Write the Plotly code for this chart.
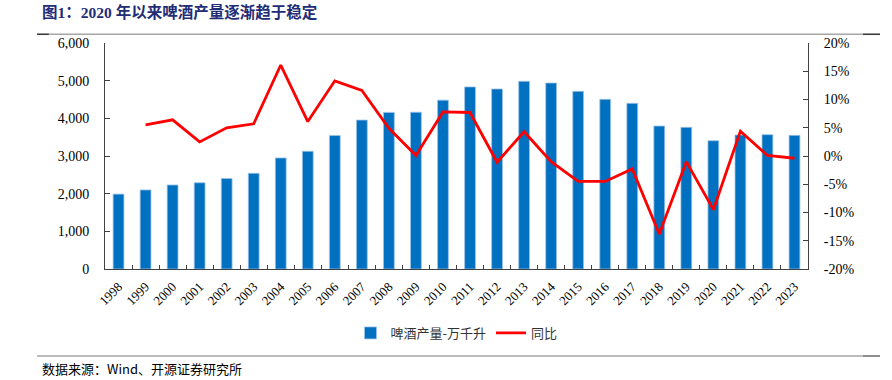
import plotly.graph_objects as go

years = [str(y) for y in range(1998, 2024)]
output = [1988, 2099, 2231, 2289, 2403, 2540, 2948, 3126, 3543, 3954, 4157, 4162, 4483,
          4834, 4779, 4983, 4938, 4717, 4504, 4398, 3796, 3761, 3406, 3557, 3566, 3548]
yoy = [None, 5.5, 6.4, 2.5, 5.0, 5.7, 16.1, 6.1, 13.3, 11.6, 4.9, 0.1, 7.8,
       7.7, -1.1, 4.3, -1.0, -4.5, -4.5, -2.3, -13.8, -1.0, -9.5, 4.4, 0.1, -0.4]
left_ticks = [0, 1000, 2000, 3000, 4000, 5000, 6000]
left_text = ["0", "1,000", "2,000", "3,000", "4,000", "5,000", "6,000"]
right_ticks = [-20, -15, -10, -5, 0, 5, 10, 15, 20]
right_text = ["-20%", "-15%", "-10%", "-5%", "0%", "5%", "10%", "15%", "20%"]

title_text = "<b>图1：2020 年以来啤酒产量逐渐趋于稳定</b>"
source_text = "数据来源：Wind、开源证券研究所"
bar_name = "啤酒产量-万千升"
line_name = "同比"

serif = "Liberation Serif, Times New Roman, Noto Sans CJK SC, serif"
cjk = "Noto Sans CJK SC, sans-serif"

fig = go.Figure()
fig.add_trace(go.Bar(
    x=years, y=output, name=bar_name,
    marker=dict(color="#0070C0", line=dict(color="#9CC3E8", width=0.8)),
))
fig.add_trace(go.Scatter(
    x=years, y=yoy, name=line_name, yaxis="y2", mode="lines",
    line=dict(color="#FF0000", width=2.8), connectgaps=False,
))

fig.update_layout(
    width=892, height=380,
    margin=dict(l=105, r=84, t=43, b=111),
    paper_bgcolor="white", plot_bgcolor="white",
    bargap=0.6,
    showlegend=True,
    legend=dict(orientation="h", x=0.5, xanchor="center", y=-0.283, yanchor="middle",
                font=dict(family=cjk, size=13, color="#333333"),
                itemwidth=30, traceorder="normal", bgcolor="rgba(0,0,0,0)"),
    xaxis=dict(
        type="category", showgrid=False, showline=True, linecolor="#404040", linewidth=1,
        ticks="inside", ticklen=4, tickcolor="#404040", tickson="boundaries",
        tickangle=-45, tickfont=dict(family=serif, size=13, color="#000000"),
        ticklabelstandoff=4,
    ),
    yaxis=dict(
        range=[0, 6000], tickvals=left_ticks, ticktext=left_text,
        showgrid=False, zeroline=False, showline=True, linecolor="#404040", linewidth=1,
        ticks="inside", ticklen=5, tickcolor="#404040",
        tickfont=dict(family=serif, size=14, color="#000000"), ticklabelstandoff=12,
    ),
    yaxis2=dict(
        range=[-20, 20], tickvals=right_ticks, ticktext=right_text,
        overlaying="y", side="right",
        showgrid=False, zeroline=False, showline=True, linecolor="#404040", linewidth=1,
        ticks="inside", ticklen=5, tickcolor="#404040",
        tickfont=dict(family=serif, size=14, color="#000000"), ticklabelstandoff=12,
    ),
    shapes=[
        dict(type="line", xref="paper", yref="paper", x0=-0.0967, x1=1.1024, y0=1.0385, y1=1.0385,
             line=dict(color="#A6A6A6", width=1.5)),
        dict(type="line", xref="paper", yref="paper", x0=-0.0967, x1=-0.080, y0=1.0385, y1=1.0385,
             line=dict(color="#404040", width=1.5)),
        dict(type="line", xref="paper", yref="paper", x0=1.0782, x1=1.1024, y0=1.0385, y1=1.0385,
             line=dict(color="#404040", width=1.5)),
        dict(type="line", xref="paper", yref="paper", x0=-0.0967, x1=1.1024, y0=-0.385, y1=-0.385,
             line=dict(color="#A6A6A6", width=1.5)),
        dict(type="line", xref="paper", yref="paper", x0=1.0782, x1=1.1024, y0=-0.385, y1=-0.385,
             line=dict(color="#808080", width=1.5)),
    ],
    annotations=[
        dict(text=title_text, xref="paper", yref="paper", x=-0.0925, y=1.137,
             xanchor="left", yanchor="middle", showarrow=False,
             font=dict(family=serif, size=15.5, color="#1F2D77")),
        dict(text=source_text, xref="paper", yref="paper", x=-0.0925, y=-0.44,
             xanchor="left", yanchor="middle", showarrow=False,
             font=dict(family=cjk, size=13, color="#000000")),
    ],
)

fig.write_html("out.html", config={"displayModeBar": False},
               post_script="document.body.style.margin='0px';document.body.style.padding='0px';")
